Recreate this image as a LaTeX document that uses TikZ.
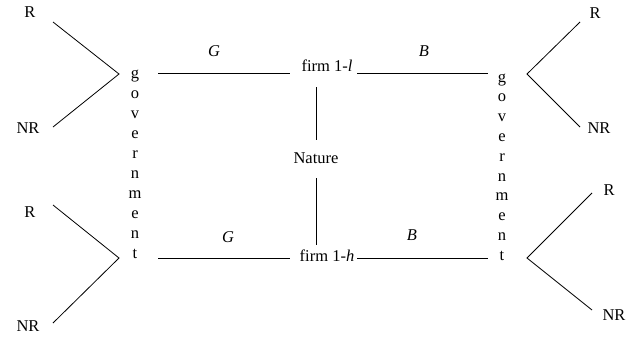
\documentclass[tikz,border=0pt]{standalone}
\usepackage{fontspec}
\setmainfont{Liberation Serif}
\begin{document}
\begin{tikzpicture}[x=1bp,y=-1bp,
  lbl/.style={inner sep=0pt,anchor=base,font=\fontsize{16.5bp}{20bp}\selectfont},
  ln/.style={draw=black,line width=0.8bp}]
\useasboundingbox (0,0) rectangle (626,340);
% government columns
\foreach \ch [count=\i from 0] in {g,o,v,e,r,n,m,e,n,t}{
  \node[lbl] (gl\i) at (135,78+20*\i) {\ch};
  \node[lbl] (gr\i) at (502,82+19.8*\i) {\ch};
}
% firms and nature
\node[lbl] (firml) at (327,71) {firm 1-\textit{l}};
\node[lbl] (firmh) at (327,261) {firm 1-\textit{h}};
\node[lbl] (nature) at (316,163) {Nature};
% move labels
\node[lbl] (G1) at (214,56) {\textit{G}};
\node[lbl] (G2) at (228,242) {\textit{G}};
\node[lbl] (B1) at (424,56) {\textit{B}};
\node[lbl] (B2) at (412,240) {\textit{B}};
% outcome labels
\node[lbl] (R1) at (30,17) {R};
\node[lbl] (NR1) at (28,133) {NR};
\node[lbl] (R2) at (30,217) {R};
\node[lbl] (NR2) at (28,331) {NR};
\node[lbl] (R3) at (595,18) {R};
\node[lbl] (NR3) at (599,133) {NR};
\node[lbl] (R4) at (609,195) {R};
\node[lbl] (NR4) at (614,320) {NR};
% coordinates
\coordinate (vL1) at (119,74);
\coordinate (vL2) at (119,258);
\coordinate (vR1) at (527,74);
\coordinate (vR2) at (527,258);
\coordinate (eR1) at (53,22);
\coordinate (eNR1) at (53,127);
\coordinate (eR2) at (53,205);
\coordinate (eNR2) at (53,323);
\coordinate (eR3) at (580,22);
\coordinate (eNR3) at (580,127);
\coordinate (eR4) at (592,193);
\coordinate (eNR4) at (592,310);
\coordinate (hl1a) at (158,73);
\coordinate (hl1b) at (290,73);
\coordinate (hr1a) at (357,73);
\coordinate (hr1b) at (488,73);
\coordinate (hl2a) at (158,258);
\coordinate (hl2b) at (290,258);
\coordinate (hr2a) at (357,258);
\coordinate (hr2b) at (488,258);
\coordinate (n1a) at (316,87);
\coordinate (n1b) at (316,140);
\coordinate (n2a) at (316,178);
\coordinate (n2b) at (316,245);
% connectors
\draw[ln] (eR1) -- (vL1) -- (eNR1);
\draw[ln] (eR2) -- (vL2) -- (eNR2);
\draw[ln] (eR3) -- (vR1) -- (eNR3);
\draw[ln] (eR4) -- (vR2) -- (eNR4);
\draw[ln] (hl1a) -- (hl1b);
\draw[ln] (hr1a) -- (hr1b);
\draw[ln] (hl2a) -- (hl2b);
\draw[ln] (hr2a) -- (hr2b);
\draw[ln] (n1a) -- (n1b);
\draw[ln] (n2a) -- (n2b);
\end{tikzpicture}
\end{document}
